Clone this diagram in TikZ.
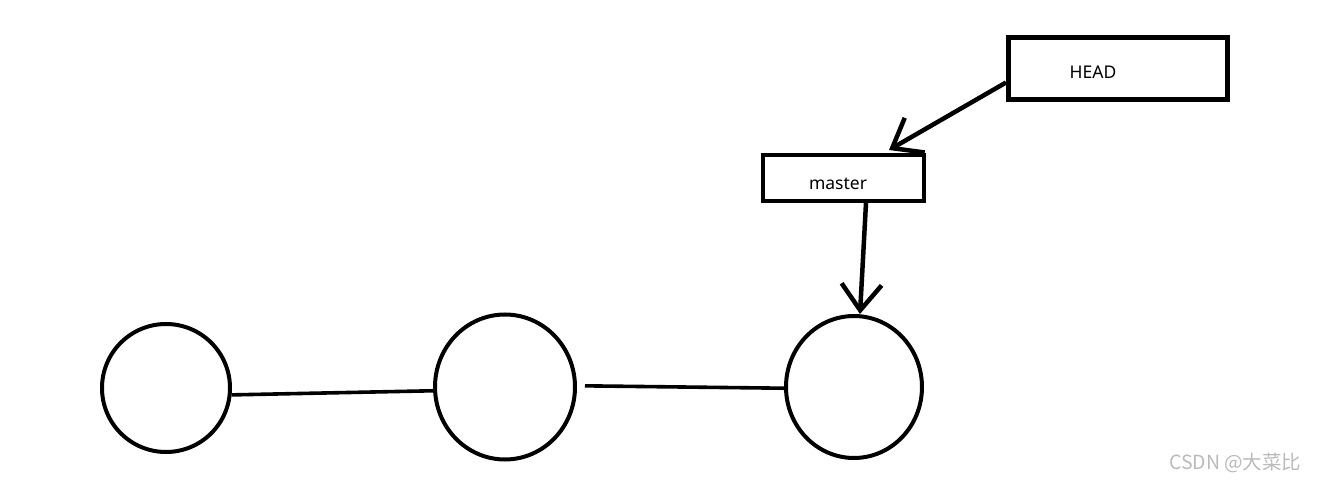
\documentclass[tikz,border=0pt]{standalone}
\usepackage{fontspec}
\setmainfont{Noto Sans}
\newfontfamily\cjk{Noto Sans CJK SC}
\usetikzlibrary{positioning,arrows.meta,shapes.geometric}

\begin{document}
\begin{tikzpicture}[x=1pt, y=-1pt, font=\fontsize{17.5}{20}\selectfont,
  commit/.style={draw, ellipse, line width=4pt, inner sep=0pt},
  ref/.style={draw, rectangle, inner sep=0pt},
  link/.style={line width=3.6pt},
  ptr/.style={-{Straight Barb[length=26pt, width=40pt]}, line width=4.5pt},
  wmark/.style={text=black!27, font=\cjk\fontsize{19.5}{22}\selectfont}]
\useasboundingbox (0,0) rectangle (1318,481);

% commits
\node[commit, minimum width=128pt, minimum height=128pt] (c1) at (166,388) {};
\node[commit, minimum width=140pt, minimum height=145pt] (c2) at (505,387) {};
\node[commit, minimum width=136pt, minimum height=142pt] (c3) at (854,387) {};

% branch and HEAD
\node[ref, line width=4pt, minimum width=161pt, minimum height=46pt,
  label={[xshift=-5pt, yshift=-6pt]center:master}] (master) at (843,178) {};
\node[ref, line width=5pt, minimum width=219pt, minimum height=62pt,
  label={[xshift=-25pt, yshift=-3.5pt]center:HEAD}] (head) at (1118,68.5) {};

% links between commits
\draw[link] (c1.-6) -- (c2.183);
\draw[link, shorten <=8pt] (c2.1) -- (c3.181);

% pointers
\draw[ptr] ([yshift=-14pt]head.west) -- ([xshift=46pt, yshift=3pt]master.north);
\draw[ptr] ([xshift=23pt]master.south) -- ([xshift=6pt]c3.north);

\node[wmark, anchor=east] (wm) at (1305,463) {CSDN @大菜比};
\end{tikzpicture}
\end{document}
